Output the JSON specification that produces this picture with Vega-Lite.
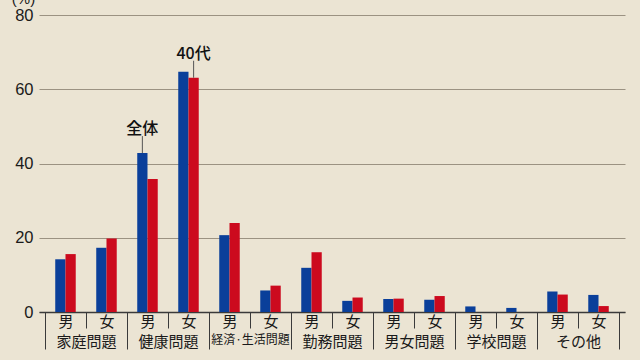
{
  "$schema": "https://vega.github.io/schema/vega-lite/v6.json",
  "width": 586,
  "height": 297,
  "autosize": {"type": "none"},
  "padding": {"left": 39, "top": 15, "right": 15, "bottom": 48},
  "background": "#ebe4d3",
  "config": {"view": {"stroke": null}, "font": "Noto Sans CJK JP"},
  "data": {"values": [
    {"slot": "家庭問題|男", "cat": "家庭問題", "series": "全体", "value": 14.2},
    {"slot": "家庭問題|男", "cat": "家庭問題", "series": "40代", "value": 15.6},
    {"slot": "家庭問題|女", "cat": "家庭問題", "series": "全体", "value": 17.3},
    {"slot": "家庭問題|女", "cat": "家庭問題", "series": "40代", "value": 19.8},
    {"slot": "健康問題|男", "cat": "健康問題", "series": "全体", "value": 42.8, "note": "全体"},
    {"slot": "健康問題|男", "cat": "健康問題", "series": "40代", "value": 35.8},
    {"slot": "健康問題|女", "cat": "健康問題", "series": "全体", "value": 64.7},
    {"slot": "健康問題|女", "cat": "健康問題", "series": "40代", "value": 63.1, "note": "40代"},
    {"slot": "経済·生活問題|男", "cat": "経済·生活問題", "series": "全体", "value": 20.7},
    {"slot": "経済·生活問題|男", "cat": "経済·生活問題", "series": "40代", "value": 24.0},
    {"slot": "経済·生活問題|女", "cat": "経済·生活問題", "series": "全体", "value": 5.8},
    {"slot": "経済·生活問題|女", "cat": "経済·生活問題", "series": "40代", "value": 7.1},
    {"slot": "勤務問題|男", "cat": "勤務問題", "series": "全体", "value": 11.9},
    {"slot": "勤務問題|男", "cat": "勤務問題", "series": "40代", "value": 16.1},
    {"slot": "勤務問題|女", "cat": "勤務問題", "series": "全体", "value": 3.0},
    {"slot": "勤務問題|女", "cat": "勤務問題", "series": "40代", "value": 3.9},
    {"slot": "男女問題|男", "cat": "男女問題", "series": "全体", "value": 3.5},
    {"slot": "男女問題|男", "cat": "男女問題", "series": "40代", "value": 3.6},
    {"slot": "男女問題|女", "cat": "男女問題", "series": "全体", "value": 3.3},
    {"slot": "男女問題|女", "cat": "男女問題", "series": "40代", "value": 4.3},
    {"slot": "学校問題|男", "cat": "学校問題", "series": "全体", "value": 1.5},
    {"slot": "学校問題|男", "cat": "学校問題", "series": "40代", "value": 0},
    {"slot": "学校問題|女", "cat": "学校問題", "series": "全体", "value": 1.1},
    {"slot": "学校問題|女", "cat": "学校問題", "series": "40代", "value": 0},
    {"slot": "その他|男", "cat": "その他", "series": "全体", "value": 5.5},
    {"slot": "その他|男", "cat": "その他", "series": "40代", "value": 4.7},
    {"slot": "その他|女", "cat": "その他", "series": "全体", "value": 4.6},
    {"slot": "その他|女", "cat": "その他", "series": "40代", "value": 1.6}
  ]},
  "layer": [
    {
      "layer": [
        {
          "mark": {"type": "bar"},
          "encoding": {
            "x": {
              "field": "slot", "type": "nominal", "sort": null,
              "scale": {"domain": ["家庭問題|男","家庭問題|女","健康問題|男","健康問題|女","経済·生活問題|男","経済·生活問題|女","勤務問題|男","勤務問題|女","男女問題|男","男女問題|女","学校問題|男","学校問題|女","その他|男","その他|女"], "paddingInner": 0, "paddingOuter": 0.146},
              "axis": {
                "orient": "bottom", "title": null, "grid": false,
                "tickBand": "extent", "tickSize": 16, "tickColor": "#3a3a3a", "tickWidth": 1,
                "domain": true, "domainColor": "#3a3a3a", "domainWidth": 1.5,
                "labelExpr": "split(datum.value, '|')[1]", "labelAngle": 0,
                "labelFontSize": 15, "labelColor": "#1a1a1a", "labelPadding": -14
              }
            },
            "xOffset": {"field": "series", "sort": ["全体", "40代"], "scale": {"domain": ["全体", "40代"], "paddingInner": 0, "paddingOuter": 1.05}},
            "y": {
              "field": "value", "type": "quantitative",
              "scale": {"domain": [0, 80]},
              "axis": {
                "values": [0, 20, 40, 60, 80], "grid": true, "gridColor": "#9b9282", "gridWidth": 1,
                "domain": false, "ticks": false, "labelPadding": 6, "labelFontSize": 16.5, "labelColor": "#1a1a1a",
                "labelFont": "Liberation Sans",
                "title": "(%)", "titleAngle": 0, "titleX": -16, "titleY": -12, "titleAlign": "center",
                "titleBaseline": "alphabetic", "titleFontWeight": "normal", "titleFontSize": 15, "titleColor": "#1a1a1a",
                "titleFont": "Liberation Sans"
              }
            },
            "color": {"field": "series", "type": "nominal", "scale": {"domain": ["全体", "40代"], "range": ["#0a3f9a", "#cc0a1e"]}, "legend": null}
          }
        },
        {
          "transform": [{"filter": "isValid(datum.note)"}],
          "mark": {"type": "rule", "color": "#555555", "strokeWidth": 1, "y2Offset": -17},
          "encoding": {
            "x": {"field": "slot", "type": "nominal", "sort": null},
            "xOffset": {"field": "series", "sort": ["全体", "40代"]},
            "y": {"field": "value", "type": "quantitative"},
            "y2": {"field": "value"}
          }
        },
        {
          "transform": [{"filter": "isValid(datum.note)"}],
          "mark": {"type": "text", "fontSize": 16, "fontWeight": 500, "color": "#111111", "baseline": "bottom", "yOffset": -16},
          "encoding": {
            "x": {"field": "slot", "type": "nominal", "sort": null},
            "xOffset": {"field": "series", "sort": ["全体", "40代"]},
            "y": {"field": "value", "type": "quantitative"},
            "text": {"field": "note"}
          }
        }
      ]
    },
    {
      "mark": {"type": "point", "opacity": 0},
      "encoding": {
        "x": {
          "field": "cat", "type": "nominal", "sort": null,
          "scale": {"domain": ["家庭問題","健康問題","経済·生活問題","勤務問題","男女問題","学校問題","その他"], "paddingInner": 0, "paddingOuter": 0.073},
          "axis": {
            "orient": "bottom", "title": null, "grid": false, "domain": false,
            "tickBand": "extent", "tickSize": 37, "tickColor": "#3a3a3a", "tickWidth": 1,
            "labelAngle": 0, "labelColor": "#1a1a1a", "labelPadding": -15,
            "labelFontSize": {"condition": {"test": "datum.value === '経済·生活問題'", "value": 12}, "value": 15}
          }
        }
      }
    }
  ],
  "resolve": {"scale": {"x": "independent", "xOffset": "independent"}}
}
